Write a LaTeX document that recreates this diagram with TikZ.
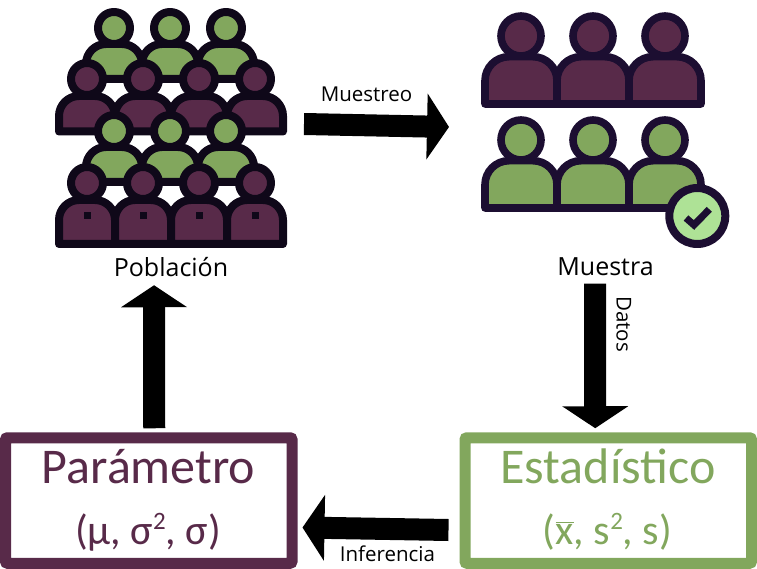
\documentclass[tikz,border=0pt]{standalone}
\usepackage{fontspec}
\setmainfont{Open Sans}
\newfontfamily\boxfont{Carlito}
\usetikzlibrary{arrows.meta,positioning}
\definecolor{tinta}{HTML}{1C0E31}
\definecolor{morado}{HTML}{582A49}
\definecolor{verde}{HTML}{82A75D}
\definecolor{verdeclaro}{HTML}{AEE296}
\tikzset{
 person/.style={draw=tinta,line width=7.6pt,line join=round},
 bigarrow/.style={draw=black,line width=22pt,-{Triangle[length=22pt,width=65pt]}},
 resultbox/.style={rectangle,draw=#1,text=#1,line width=11pt,rounded corners=2pt,
  minimum width=286.5pt,minimum height=125.5pt,inner sep=0pt,align=center,font=\boxfont},
 iconlabel/.style={font=\fontsize{25}{29}\selectfont},
 arrowlabel/.style={font=\fontsize{20.5}{24}\selectfont}
}
% fill, x, y of head, head radius, half width, body top, body bottom, corner
\newcommand{\persona}[8]{
 \draw[person,fill=#1,rounded corners=#8pt] (#2-#5,#3+#7) -- (#2-#5,#3+#6) -- (#2+#5,#3+#6) [sharp corners] -- (#2+#5,#3+#7) -- cycle;
 \draw[person,fill=#1] (#2,#3) circle[radius=#4pt];
}
\newcommand{\supdos}{\raisebox{15pt}{\fontsize{25}{25}\selectfont 2}}
\begin{document}
\begin{tikzpicture}[x=1pt,y=-1pt]
 \useasboundingbox (0,0) rectangle (757,569);
 % poblacion
 \begin{scope}[person/.append style={line width=8pt}]
 \definecolor{tinta}{HTML}{0F0819}
 \foreach \px in {114,170,226} {\persona{verde}{\px}{28}{16}{28}{16}{51}{20}}
 \foreach \px in {87,143,199,255} {\persona{morado}{\px}{79}{16}{28}{17}{52.5}{20}}
 \foreach \px in {114,170,226} {\persona{verde}{\px}{131}{16}{28}{16}{51}{20}}
 \foreach \px in {87,143,199,255} {
  \persona{morado}{\px}{183}{16}{28}{17}{61}{20}
  \fill[tinta] (\px-3.5,212.5) rectangle (\px+3.5,219.5);
 }
 \end{scope}
 % muestra
 \foreach \px in {521,593,665} {
  \persona{morado}{\px}{36}{20}{36}{20.7}{68}{24}
  \persona{verde}{\px}{140}{20}{36}{20.7}{68}{24}
 }
 \draw[person,line width=8pt,fill=verdeclaro] (697.3,216) circle[radius=28pt];
 \draw[tinta,line width=7pt] (686,218) -- (694,225) -- (709.3,209.3);

 \node[iconlabel] (poblacion) at (171,267) {Población};
 \node[iconlabel] (muestra) at (605.5,267) {Muestra};
 \node[resultbox=morado] (parametro) at (148.75,500.5) {};
 \node[resultbox=verde] (estadistico) at (608.25,500.5) {};
 \node[text=morado,font=\boxfont\fontsize{50}{58}\selectfont,anchor=base] (parametro_t) at (148.5,483) {Parámetro};
 \node[text=morado,font=\boxfont\fontsize{42}{48}\selectfont,anchor=base] (parametro_s) at (148,544) {(μ, σ\supdos, σ)};
 \node[text=verde,font=\boxfont\fontsize{50}{58}\selectfont,anchor=base] (estadistico_t) at (608,483) {Estadístico};
 \node[text=verde,font=\boxfont\fontsize{42}{48}\selectfont,anchor=base] (estadistico_s) at (607.5,544) {($\overline{\mbox{x}}$, s\supdos, s)};

 \coordinate (muestreo_a) at (304,124);
 \coordinate (muestreo_b) at (449,127);
 \coordinate (inferencia_a) at ([xshift=-11pt,yshift=-29.5pt]estadistico.west);
 \coordinate (inferencia_b) at ([xshift=5pt,yshift=-27pt]parametro.east);
 \path
  (muestreo_a) edge[bigarrow] node[arrowlabel,above=9pt,xshift=-10pt] {Muestreo} (muestreo_b)
  ([xshift=-10.5pt,yshift=-4pt]muestra.south) edge[bigarrow] node[arrowlabel,rotate=-90,anchor=south,yshift=7pt,pos=0.28] {Datos} ([xshift=-13pt,yshift=4pt]estadistico.north)
  ([yshift=4pt,xshift=5.5pt]parametro.north) edge[bigarrow] ([xshift=-17pt,yshift=-5pt]poblacion.south)
  (inferencia_a) edge[bigarrow] node[arrowlabel,below=3pt,xshift=12pt] {Inferencia} (inferencia_b);
\end{tikzpicture}
\end{document}
